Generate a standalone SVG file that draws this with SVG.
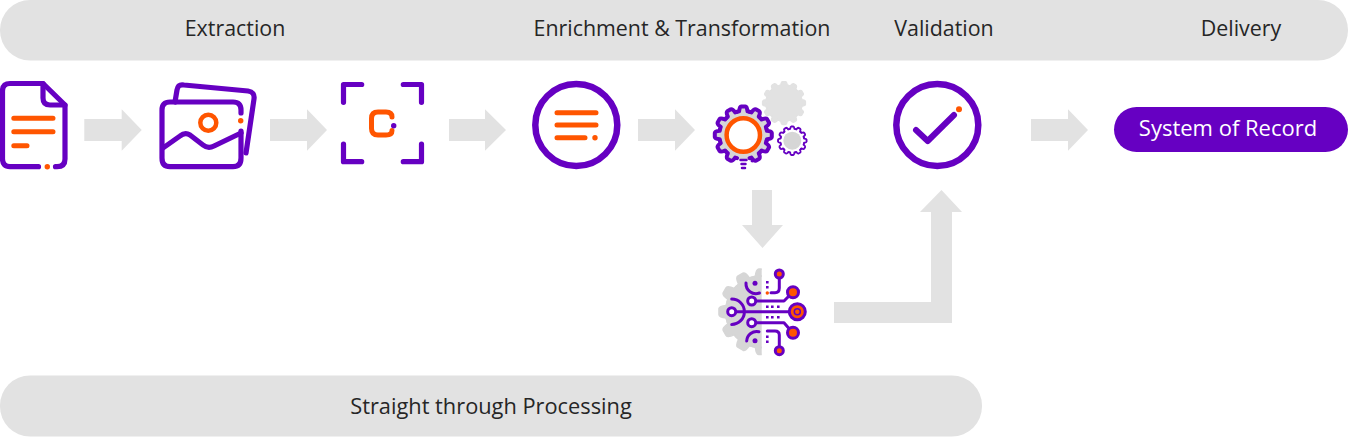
<svg xmlns="http://www.w3.org/2000/svg" xmlns:xlink="http://www.w3.org/1999/xlink" width="1348" height="438" viewBox="0 0 1348 438">
<style>
.band{fill:#e2e2e2}
.arrow{fill:#e2e2e2}
.t{font-family:"Open Sans","Noto Sans","Liberation Sans",sans-serif;font-size:21.4px;fill:#262626;text-anchor:middle}
.p{fill:none;stroke:#6600c2;stroke-width:5.200;stroke-linecap:round;stroke-linejoin:round}
.o{fill:none;stroke:#ff5500;stroke-width:5;stroke-linecap:round;stroke-linejoin:round}
.od{fill:#ff5500}
.pd{fill:#6600c2}
.c{fill:none;stroke:#6600c2;stroke-width:3;stroke-linecap:round;stroke-linejoin:round}
.cw{fill:#fff;stroke:#6600c2;stroke-width:3}
.cr{fill:#ff5500;stroke:#6600c2;stroke-width:3}
</style>
<defs>
<path id="tooth" d="M-6.2-23.2L-4.2-23.6Q-3.8-28.3-2-28.5H2Q3.8-28.3 4.2-23.6L6.2-23.2"/>
<clipPath id="half"><rect x="700" y="260" width="61.7" height="100"/></clipPath>
</defs>

<g id="band-top">
<rect class="band" x="0" y="0" width="1348" height="60.500" rx="30"/>
<text class="t" x="235" y="35.700">Extraction</text>
<text class="t" x="682" y="35.700">Enrichment &amp; Transformation</text>
<text class="t" x="944" y="35.700">Validation</text>
<text class="t" x="1241" y="35.700">Delivery</text>
</g>
<g id="band-bottom">
<rect class="band" x="0" y="375.500" width="982" height="61" rx="30"/>
<text class="t" style="font-size:21.8px" x="491" y="413.800">Straight through Processing</text>
</g>

<g id="connectors">
<path class="arrow" d="M84.3 119H121.700V109.300L141.700 130L121.700 150.700V141H84.300Z"/>
<path class="arrow" d="M270 119H307V109.300L327 130L307 150.700V141H270Z"/>
<path class="arrow" d="M449 119H485V109.300L506 130L485 150.700V141H449Z"/>
<path class="arrow" d="M638 119H675V109.300L695 130L675 150.700V141H638Z"/>
<path class="arrow" d="M1031 119H1068V109.300L1088 130L1068 150.700V141H1031Z"/>
<path class="arrow" d="M752 190H772V225H783L762.500 248L742 225H752Z"/>
<path class="arrow" d="M834 302H931V212H920L941.500 190L962 212H952V323H834Z"/>
</g>

<g id="node-document">
<path class="p" d="M38.500 166.700H10Q2.500 166.700 2.500 159V91Q2.500 83.500 10 83.500H43L65 105V159Q65 166.700 57 166.700H55.500"/>
<path class="p" d="M43 83.500V98Q43 105 50 105H65"/>
<path class="o" d="M13.800 118.300H53M13.800 131.700H53M13.800 145.700H27"/>
<circle class="od" cx="47.300" cy="166.700" r="2.700"/>
</g>

<g id="node-images">
<path class="p" d="M241 113V110Q241 102 233 102H170Q162 102 162 110V158Q162 166.700 170 166.700H233Q241 166.700 241 158V131"/>
<path class="p" d="M163 148L180 136Q185 132 190 135L203 145Q208 149 214 146L241 133"/>
<path class="p" d="M175 102L177 90Q178 84 184 85L248 91Q255 92 254 99L246 153"/>
<circle cx="208.300" cy="122.700" r="8" fill="none" stroke="#ff5500" stroke-width="4.500"/>
<circle class="od" cx="240.700" cy="120.700" r="2.700"/>
</g>

<g id="node-scan">
<path class="p" d="M361.700 84.500H343.500V102.300M403.300 84.500H421.500V102.300M343.500 144V161.700H361.700M421.500 144V161.700H403.300"/>
<path class="o" d="M392 117Q392 112 386 112H378Q371.500 112 371.500 118.500V128.500Q371.500 135 378 135H386Q392 135 392 130.500"/>
<circle class="pd" cx="393.700" cy="125.700" r="2.700"/>
</g>

<g id="node-list">
<circle cx="576.300" cy="125" r="41" fill="none" stroke="#6600c2" stroke-width="6.500"/>
<path class="o" d="M557 112.700H596M557 125H596M557 137.700H585"/>
<circle class="od" cx="595" cy="137.700" r="2.700"/>
</g>

<g id="node-gears">
<g transform="translate(784 103) scale(.75)" fill="#e2e2e2" stroke="#e2e2e2" stroke-width="2" stroke-linejoin="round">
<circle r="24"/>
<use xlink:href="#tooth"/><use xlink:href="#tooth" transform="rotate(30)"/><use xlink:href="#tooth" transform="rotate(60)"/><use xlink:href="#tooth" transform="rotate(90)"/><use xlink:href="#tooth" transform="rotate(120)"/><use xlink:href="#tooth" transform="rotate(150)"/><use xlink:href="#tooth" transform="rotate(180)"/><use xlink:href="#tooth" transform="rotate(210)"/><use xlink:href="#tooth" transform="rotate(240)"/><use xlink:href="#tooth" transform="rotate(270)"/><use xlink:href="#tooth" transform="rotate(300)"/><use xlink:href="#tooth" transform="rotate(330)"/>
</g>
<g transform="translate(743.300 135)">
<circle r="24.500" fill="#d6d6d6"/>
<g fill="#d6d6d6" stroke="#6600c2" stroke-width="4" stroke-linejoin="round" stroke-linecap="round">
<use xlink:href="#tooth"/><use xlink:href="#tooth" transform="rotate(30)"/><use xlink:href="#tooth" transform="rotate(60)"/><use xlink:href="#tooth" transform="rotate(90)"/><use xlink:href="#tooth" transform="rotate(120)"/><use xlink:href="#tooth" transform="rotate(240)"/><use xlink:href="#tooth" transform="rotate(270)"/><use xlink:href="#tooth" transform="rotate(300)"/><use xlink:href="#tooth" transform="rotate(330)"/><use xlink:href="#tooth" transform="rotate(150)"/><use xlink:href="#tooth" transform="rotate(210)"/>
</g>
<circle r="16.700" fill="#fff" stroke="#ff5500" stroke-width="4.500"/>
</g>
<path d="M740.500 160H746.500M741.500 164H745.500M742 168H745" fill="none" stroke="#6600c2" stroke-width="2.500" stroke-linecap="round"/>
<circle class="pd" cx="752.300" cy="160.700" r="1.800"/>
<g transform="translate(792.300 140.700) scale(.5)">
<circle r="24" fill="#fff"/>
<g fill="#fff" stroke="#6600c2" stroke-width="3.800" stroke-linejoin="round" stroke-linecap="round">
<use xlink:href="#tooth"/><use xlink:href="#tooth" transform="rotate(30)"/><use xlink:href="#tooth" transform="rotate(60)"/><use xlink:href="#tooth" transform="rotate(90)"/><use xlink:href="#tooth" transform="rotate(120)"/><use xlink:href="#tooth" transform="rotate(150)"/><use xlink:href="#tooth" transform="rotate(180)"/><use xlink:href="#tooth" transform="rotate(210)"/><use xlink:href="#tooth" transform="rotate(240)"/><use xlink:href="#tooth" transform="rotate(270)"/><use xlink:href="#tooth" transform="rotate(300)"/><use xlink:href="#tooth" transform="rotate(330)"/>
</g>
<circle r="18" fill="#d6d6d6"/>
</g>
</g>

<g id="node-circuit">
<g clip-path="url(#half)">
<g transform="translate(761.700 311.700) scale(1.500)" fill="#d6d6d6" stroke="#d6d6d6" stroke-width="1" stroke-linejoin="round">
<circle r="24"/>
<use xlink:href="#tooth" transform="rotate(180)"/><use xlink:href="#tooth" transform="rotate(210)"/><use xlink:href="#tooth" transform="rotate(240)"/><use xlink:href="#tooth" transform="rotate(270)"/><use xlink:href="#tooth" transform="rotate(300)"/><use xlink:href="#tooth" transform="rotate(330)"/><use xlink:href="#tooth"/>
</g>
</g>
<path class="c" d="M731.700 299A12.700 12.700 0 0 1 731.700 324.400M731.700 311.700H797"/>
<path class="c" d="M751.700 301H784L792.700 292.300M751.700 322.700H784L792.700 332.700"/>
<path class="c" d="M779.300 278V288Q779.300 292.700 775 292.700H771M779.300 347V335Q779.300 331 775 331H767.300"/>
<path class="c" d="M746 283A10 10 0 0 0 759.500 293M746.700 341A10 10 0 0 1 759 331.700"/>
<circle class="cw" cx="731.700" cy="311.700" r="4"/>
<circle class="cw" cx="751.700" cy="301" r="4"/>
<circle class="cw" cx="751.700" cy="322.700" r="4"/>
<circle class="cr" cx="779.300" cy="274" r="4"/>
<circle class="cr" cx="779.300" cy="350.700" r="4"/>
<circle class="cr" cx="793" cy="292.300" r="5.500"/>
<circle class="cr" cx="793" cy="332.700" r="5.500"/>
<circle class="cr" cx="797.300" cy="311.700" r="8"/>
<circle cx="797.300" cy="311.700" r="3" fill="#ff5500" stroke="#6600c2" stroke-width="1.500"/>
<circle class="pd" cx="755" cy="283.300" r="2.500"/>
<circle class="pd" cx="755" cy="340.700" r="2.500"/>
<path d="M767.300 282.300v.01M767.300 287.300v.01M767.300 306.700v.01M772.300 306.700v.01M778.300 306.700v.01M767.300 317.300v.01M772.300 317.300v.01M778.300 317.300v.01M767.300 336.700v.01M767.300 341.700v.01" fill="none" stroke="#6600c2" stroke-width="2.600" stroke-linecap="square"/>
<circle class="od" cx="767.300" cy="293" r="1.700"/>
</g>

<g id="node-check">
<circle cx="937.300" cy="125" r="41" fill="none" stroke="#6600c2" stroke-width="6.500"/>
<path class="p" style="stroke-width:6" d="M916 130L927.700 141L954 115"/>
<circle class="od" cx="959" cy="109.300" r="3"/>
</g>

<g id="node-system-of-record">
<rect x="1114" y="107" width="234" height="45" rx="22.500" fill="#6600c2"/>
<text class="t" style="fill:#fff;font-size:22px" x="1228" y="135.500">System of Record</text>
</g>
</svg>
